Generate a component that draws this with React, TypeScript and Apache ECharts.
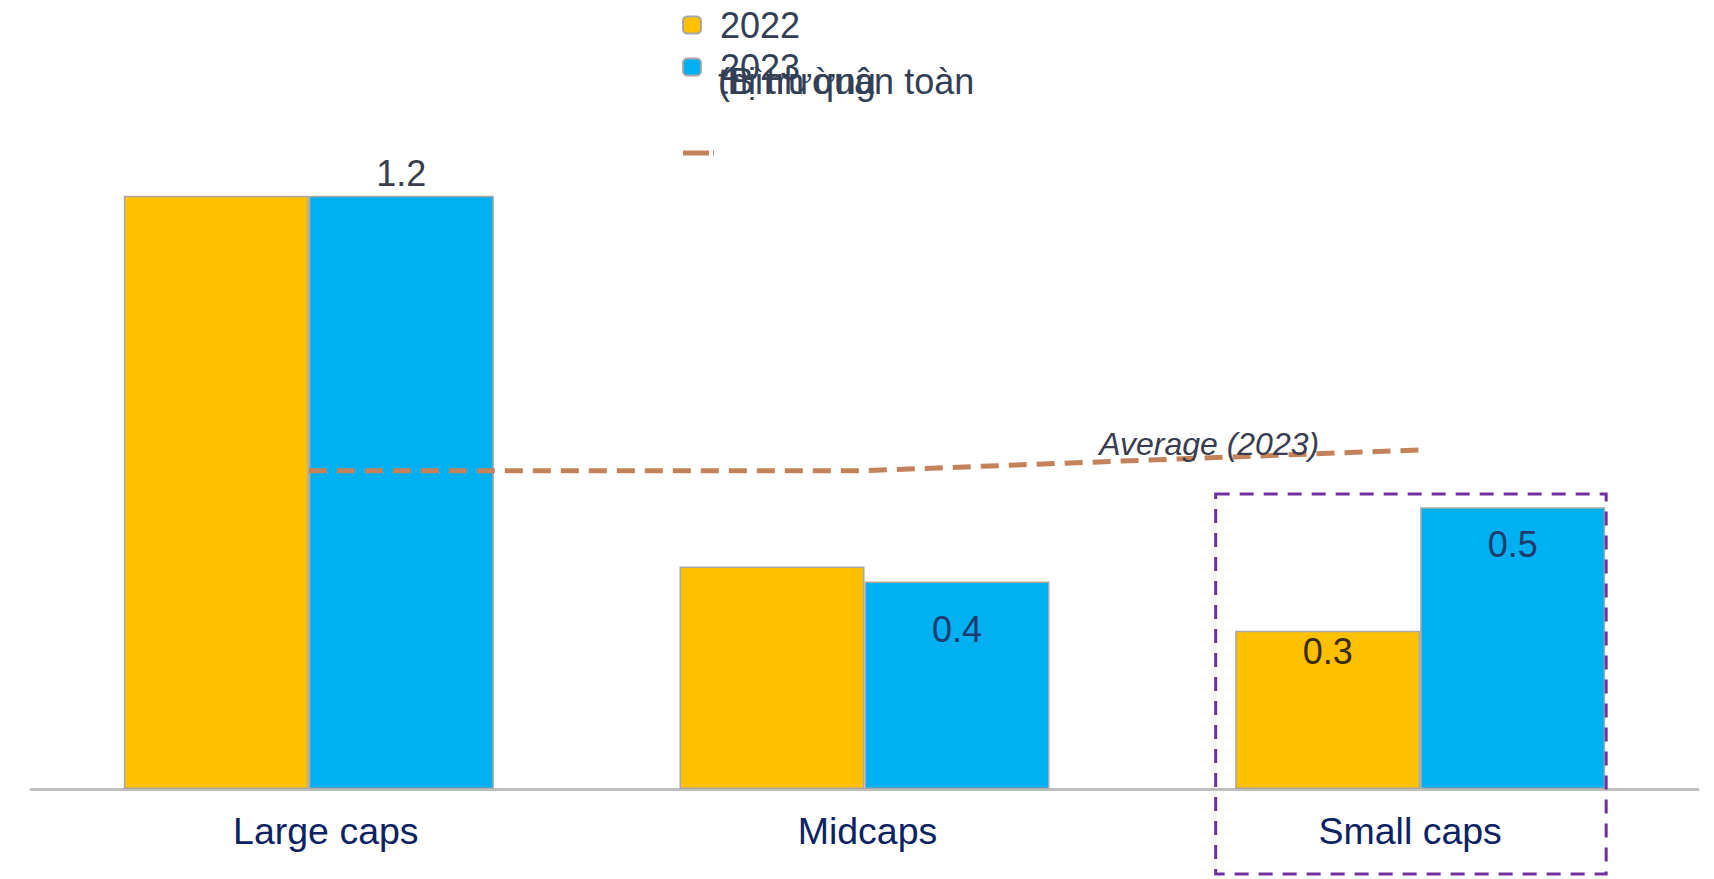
import React, { useEffect, useRef } from "react";
import * as echarts from "echarts";

const categories = ["Large caps", "Midcaps", "Small caps"];
const values2022 = [1.2, 0.45, 0.32];
const values2023 = [1.2, 0.42, 0.57];
const average2023 = [0.644, 0.644, 0.686];
const labels2022 = ["", "", "0.3"];
const labels2023 = ["1.2", "0.4", "0.5"];
const legendNames = ["2022", "2023"];
const overlapTexts = ["(Bình quân toàn", "thị trường"];
const averageLabel = "Average (2023)";

const FONT = "'Liberation Sans', Arial, sans-serif";
const YELLOW = "#FFC000";
const BLUE = "#00B0F0";
const LINE = "#C4825A";

export default function App() {
  const ref = useRef<HTMLDivElement>(null);

  useEffect(() => {
    if (!ref.current) return;
    const chart = echarts.init(ref.current, undefined, { renderer: "svg" });

    const pos2022: any[] = [null, null, { position: "insideTop", distance: 3, color: "#3A2C12" }];
    const pos2023: any[] = [
      { position: "top", distance: 4, color: "#3A3D4C" },
      { position: "insideTop", distance: 30, color: "#1F3A6E" },
      { position: "insideTop", distance: 19, color: "#1F3A6E" },
    ];
    const catPadding = [
      [0, 0, 0, 34],
      [0, 0, 0, 6],
      [0, 20, 0, 0],
    ];

    const barData = (vals: number[], labels: string[], pos: any[]) =>
      vals.map((v, i) => ({
        value: v,
        label: labels[i]
          ? { show: true, formatter: labels[i], ...pos[i] }
          : { show: false },
      }));

    chart.setOption({
      animation: false,
      textStyle: { fontFamily: FONT },
      grid: { left: 31, right: 16, top: 97, bottom: 90, containLabel: false },
      legend: {
        orient: "vertical",
        left: 677,
        top: 2,
        itemWidth: 18,
        itemHeight: 17,
        itemGap: 6,
        icon: "roundRect",
        data: legendNames,
        textStyle: {
          fontSize: 36,
          lineHeight: 36,
          color: "#333F55",
          fontFamily: FONT,
          padding: [0, 0, 0, 14],
        },
      },
      xAxis: {
        type: "category",
        data: categories.map((c, i) => ({
          value: c,
          textStyle: { padding: catPadding[i] },
        })),
        axisLine: { show: true, lineStyle: { color: "#BFBFBF", width: 3 } },
        axisTick: { show: false },
        axisLabel: {
          fontSize: 37.5,
          lineHeight: 36,
          color: "#0B2263",
          margin: 24,
          fontFamily: FONT,
        },
      },
      yAxis: {
        type: "value",
        min: 0,
        max: 1.4,
        show: false,
        splitLine: { show: false },
      },
      series: [
        {
          name: "2022",
          type: "bar",
          barWidth: 185,
          barGap: "0%",
          itemStyle: { color: YELLOW, borderColor: "#A8A8A8", borderWidth: 1.5 },
          label: { fontSize: 36, lineHeight: 36, fontFamily: FONT },
          data: barData(values2022, labels2022, pos2022),
        },
        {
          name: "2023",
          type: "bar",
          barWidth: 185,
          barGap: "0%",
          itemStyle: { color: BLUE, borderColor: "#A8A8A8", borderWidth: 1.5 },
          label: { fontSize: 36, lineHeight: 36, fontFamily: FONT },
          data: barData(values2023, labels2023, pos2023),
        },
        {
          name: "avg",
          type: "line",
          data: average2023,
          symbol: "none",
          z: 5,
          lineStyle: { color: LINE, width: 5, type: [18, 10], cap: "butt" },
        },
      ],
    });

    const pSmall = chart.convertToPixel({ gridIndex: 0 }, [2, 0]) as number[];
    const pAvg = chart.convertToPixel({ gridIndex: 0 }, [1, average2023[2]]) as number[];

    chart.setOption({
      graphic: [
        {
          type: "rect",
          shape: { x: pSmall[0] - 204.5, y: pSmall[1] - 295, width: 390.5, height: 380 },
          style: { fill: "none", stroke: "#7030A0", lineWidth: 3, lineDash: [14, 10] },
          z: 10,
        },
        {
          type: "text",
          x: pSmall[0] - 321,
          y: pAvg[1] - 6,
          style: {
            text: averageLabel,
            font: `italic 32px ${FONT}`,
            fill: "#3A3C50",
            verticalAlign: "middle",
          },
          z: 10,
        },
        ...overlapTexts.map((t) => ({
          type: "text",
          x: 718,
          y: 81,
          style: {
            text: t,
            font: `36px ${FONT}`,
            fill: "#333F55",
            verticalAlign: "middle",
          },
          z: 10,
        })),
        {
          type: "line",
          shape: { x1: 683, y1: 153, x2: 714, y2: 153 },
          style: { stroke: LINE, lineWidth: 5, lineDash: [26, 4] },
          z: 10,
        },
      ],
    });

    return () => chart.dispose();
  }, []);

  return (
    <div
      ref={ref}
      style={{ position: "fixed", left: 0, top: 0, width: 1714, height: 879, background: "#fff" }}
    />
  );
}
